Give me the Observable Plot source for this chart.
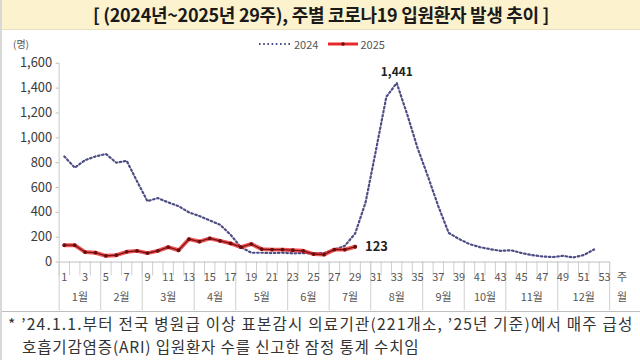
<!DOCTYPE html>
<html><head><meta charset="utf-8">
<script src="https://cdn.jsdelivr.net/npm/d3@7"></script>
<script src="https://cdn.jsdelivr.net/npm/@observablehq/plot@0.6"></script>
<style>
*{box-sizing:border-box}
body{margin:0;width:640px;height:360px;overflow:hidden;background:#fff;font-family:"Noto Sans CJK KR",sans-serif;border-left:2px solid #d8d8d8}
#banner{height:30px;background:#fcf2cd;border-bottom:1px solid #e6dfc3;text-align:center;font-weight:bold;font-size:18px;line-height:29px;color:#1a1a1a;letter-spacing:-0.3px}
#chart{position:relative;height:282px;border-bottom:1px solid #bdbdbd}
#chart svg.plot{position:absolute;left:-2px;top:0}
#unit{position:absolute;left:11px;top:6px;font-size:10px;color:#555}
#legend{position:absolute;left:256px;top:6px;font-size:11px;color:#555;display:flex;align-items:center;gap:2px}
#legend span{margin-right:8px}
#note{font-size:15.6px;color:#333;line-height:23px;padding-left:6px;padding-top:0px;white-space:nowrap;letter-spacing:1.2px}
#note div{height:23px;overflow:visible}
#note div.l2{padding-left:14px;letter-spacing:0.8px}
</style></head>
<body>
<div id="banner">[ (2024년~2025년 29주), 주별 코로나19 입원환자 발생 추이 ]</div>
<div id="chart">
  <div id="unit">(명)</div>
  <div id="legend">
    <svg width="34" height="10"><line x1="1" y1="5" x2="33" y2="5" stroke="#4d4d85" stroke-width="2" stroke-dasharray="1.6,2.6"/></svg><span>2024</span>
    <svg width="30" height="10"><line x1="0" y1="5" x2="30" y2="5" stroke="#e8292b" stroke-width="3"/><circle cx="15" cy="5" r="1.8" fill="#6a0d0d"/></svg><span>2025</span>
  </div>
</div>
<div id="note">
  <div>* ’24.1.1.부터 전국 병원급 이상 표본감시 의료기관(221개소, ’25년 기준)에서 매주 급성</div>
  <div class="l2">호흡기감염증(ARI) 입원환자 수를 신고한 잠정 통계 수치임</div>
</div>
<script>
const weeks2024 = d3.range(1, 53);
const values2024 = [850, 760, 820, 850, 870, 800, 815, 650, 490, 515, 480, 450, 400, 370, 335, 300, 220, 120, 75, 75, 72, 75, 70, 72, 70, 72, 100, 130, 230, 480, 900, 1330, 1441, 1190, 920, 690, 450, 235, 185, 145, 120, 104, 90, 95, 73, 56, 45, 40, 50, 37, 56, 101];
const weeks2025 = d3.range(1, 30);
const values2025 = [136, 136, 80, 75, 50, 55, 82, 90, 72, 90, 120, 95, 184, 165, 190, 170, 150, 120, 145, 104, 100, 100, 95, 90, 64, 60, 100, 100, 123];
const yTicks = [0, 200, 400, 600, 800, 1000, 1200, 1400, 1600];
const weekLabels = d3.range(1, 54, 2);
const monthNames = ["1월","2월","3월","4월","5월","6월","7월","8월","9월","10월","11월","12월"];
const monthBounds = [0, 4, 8, 13, 17, 22, 26, 30, 35, 39, 43, 48, 53];
const weekUnit = "주";
const monthUnit = "월";

const d24 = weeks2024.map((w, i) => ({week: w, value: values2024[i]}));
const d25 = weeks2025.map((w, i) => ({week: w, value: values2025[i]}));
const peak = d24.reduce((a, b) => b.value > a.value ? b : a);
const last = d25[d25.length - 1];
const monthCenters = monthNames.map((m, i) => (monthBounds[i] + monthBounds[i + 1]) / 2 + 0.5);
const monthLabelOf = new Map(monthCenters.map((c, i) => [c, monthNames[i]]));
const unitPos = 54.7;

const chart = Plot.plot({
  className: "plot",
  width: 642, height: 282,
  marginLeft: 59, marginRight: 29, marginTop: 33, marginBottom: 49,
  x: {domain: [0.5, 53.5]},
  y: {domain: [0, 1600]},
  style: {fontFamily: "'Noto Sans CJK KR', sans-serif", background: "transparent"},
  marks: [
    Plot.axisY({ticks: yTicks, tickFormat: d3.format(","), tickSize: 3, tickPadding: 4, fontSize: 13, stroke: "#bbb", fill: "#3a3a3a", label: null}),
    Plot.ruleX([0.5], {y1: 0, y2: 1600, stroke: "#c8c8c8"}),
    Plot.axisX({ticks: d3.range(0.5, 54, 1), tickSize: 14, tickFormat: () => "", stroke: "#cfcfcf", label: null}),
    Plot.axisX({ticks: monthBounds.map(k => k + 0.5), tickSize: 49, tickFormat: () => "", stroke: "#cfcfcf", label: null}),
    Plot.axisX({ticks: [...weekLabels, unitPos], tickSize: 0, tickPadding: 11, fontSize: 11, fill: "#555", tickFormat: d => d === unitPos ? weekUnit : d, label: null}),
    Plot.axisX({ticks: [...monthCenters, unitPos], tickSize: 0, tickPadding: 31, fontSize: 11, fill: "#555", tickFormat: d => d === unitPos ? monthUnit : monthLabelOf.get(d), label: null}),
    Plot.ruleY([0], {stroke: "#c0c0c0"}),
    Plot.line(d24, {x: "week", y: "value", stroke: "#4d4d85", strokeWidth: 2.2, strokeDasharray: "1.6,2.6"}),
    Plot.line(d25, {x: "week", y: "value", stroke: "#e8292b", strokeWidth: 4, strokeOpacity: 0.8}),
    Plot.line(d25, {x: "week", y: "value", stroke: "#7a1010", strokeWidth: 1.2}),
    Plot.dot(d25, {x: "week", y: "value", r: 1.9, fill: "#6a0d0d"}),
    Plot.text([peak], {x: "week", y: "value", text: d => d3.format(",")(d.value), dy: -11, fontSize: 12, fontWeight: "bold", fill: "#222"}),
    Plot.text([last], {x: "week", y: "value", text: d => d3.format(",")(d.value), dx: 10, textAnchor: "start", fontSize: 13, fontWeight: "bold", fill: "#222"})
  ]
});
document.getElementById("chart").appendChild(chart);
</script>
</body></html>
